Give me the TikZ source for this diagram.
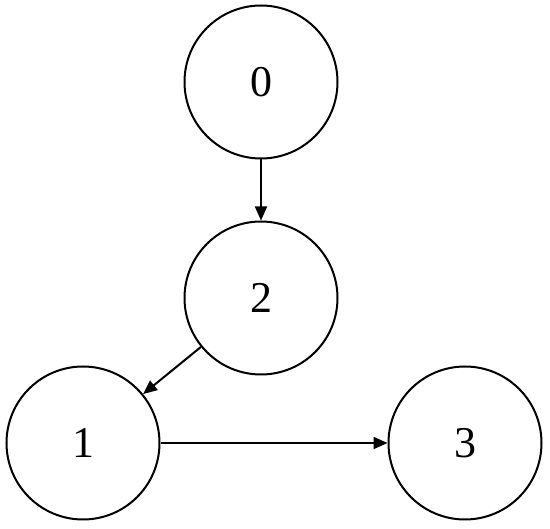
\documentclass[tikz,border=0pt]{standalone}
\usepackage{fontspec}
\setmainfont{Liberation Serif}
\usetikzlibrary{arrows.meta}

\begin{document}
\begin{tikzpicture}[x=1pt, y=-1pt,
    vert/.style={circle, draw, line width=2pt, minimum size=153pt, inner sep=0pt,
      font=\fontsize{44}{50}\selectfont},
    edge/.style={line width=2pt, -{Triangle[length=14pt, width=12pt]}}]
        \useasboundingbox (0,0) rectangle (550,529);
        \node[vert] (n0) at (261,82) {0};
        \node[vert] (n2) at (261,298) {2};
        \node[vert] (n1) at (83,443) {1};
        \node[vert] (n3) at (465,443) {3};
        \draw[edge] (n0) -- (n2);
        \draw[edge] (n2) -- (n1);
        \draw[edge] (n1) -- (n3);
      \end{tikzpicture}
\end{document}
